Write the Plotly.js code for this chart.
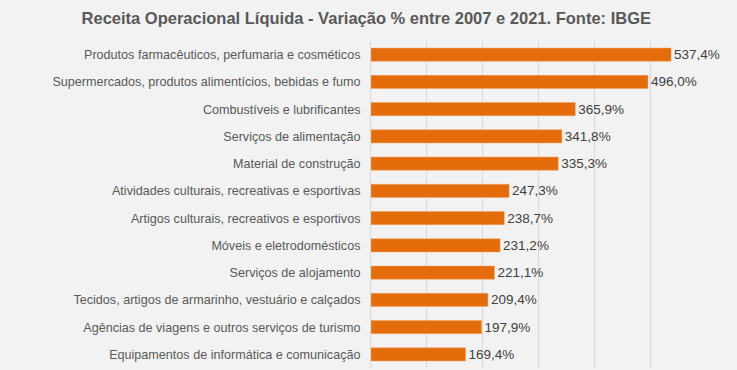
<!DOCTYPE html>
<html>
<head>
<meta charset="utf-8">
<script src="https://cdn.plot.ly/plotly-3.0.1.min.js"></script>
<style>html,body{margin:0;padding:0;background:#f2f2f2;}#chart{width:737px;height:370px;}</style>
</head>
<body>
<div id="chart"></div>
<script>
const categories = [
  "Produtos farmacêuticos, perfumaria e cosméticos",
  "Supermercados, produtos alimentícios, bebidas e fumo",
  "Combustíveis e lubrificantes",
  "Serviços de alimentação",
  "Material de construção",
  "Atividades culturais, recreativas e esportivas",
  "Artigos culturais, recreativos e esportivos",
  "Móveis e eletrodomésticos",
  "Serviços de alojamento",
  "Tecidos, artigos de armarinho, vestuário e calçados",
  "Agências de viagens e outros serviços de turismo",
  "Equipamentos de informática e comunicação"
];
const values = [537.4, 496.0, 365.9, 341.8, 335.3, 247.3, 238.7, 231.2, 221.1, 209.4, 197.9, 169.4];
const valueLabels = values.map(v => v.toFixed(1).replace('.', ',') + '%');

const trace = {
  type: 'bar',
  orientation: 'h',
  x: values,
  y: categories,
  text: valueLabels,
  textposition: 'outside',
  constraintext: 'none',
  cliponaxis: false,
  textfont: {family: 'Liberation Sans, Arial, sans-serif', size: 13.5, color: '#404040'},
  marker: {color: '#E46C0A', line: {color: '#F0A060', width: 0.5}},
  width: 0.48,
  hoverinfo: 'none'
};

const layout = {
  width: 737,
  height: 370,
  paper_bgcolor: '#f2f2f2',
  plot_bgcolor: '#f2f2f2',
  margin: {l: 371, r: 31, t: 41, b: 2},
  title: {
    text: '<b>Receita Operacional Líquida - Variação % entre 2007 e 2021. Fonte: IBGE</b>',
    font: {family: 'Liberation Sans, Arial, sans-serif', size: 16.5, color: '#595959'},
    x: 0.497, xanchor: 'center', y: 0.951, yanchor: 'middle', xref: 'container', yref: 'container'
  },
  showlegend: false,
  xaxis: {
    range: [0, 600],
    dtick: 100,
    showticklabels: false,
    showgrid: true,
    gridcolor: '#d9d9d9',
    gridwidth: 1,
    zeroline: false,
    showline: false,
    fixedrange: true
  },
  yaxis: {
    autorange: 'reversed',
    showline: true,
    linecolor: '#d9d9d9',
    linewidth: 1,
    ticks: '',
    ticklabelstandoff: 7,
    tickfont: {family: 'Liberation Sans, Arial, sans-serif', size: 12.6, color: '#595959'},
    fixedrange: true
  }
};

Plotly.newPlot('chart', [trace], layout, {displayModeBar: false, staticPlot: true});
</script>
</body>
</html>
